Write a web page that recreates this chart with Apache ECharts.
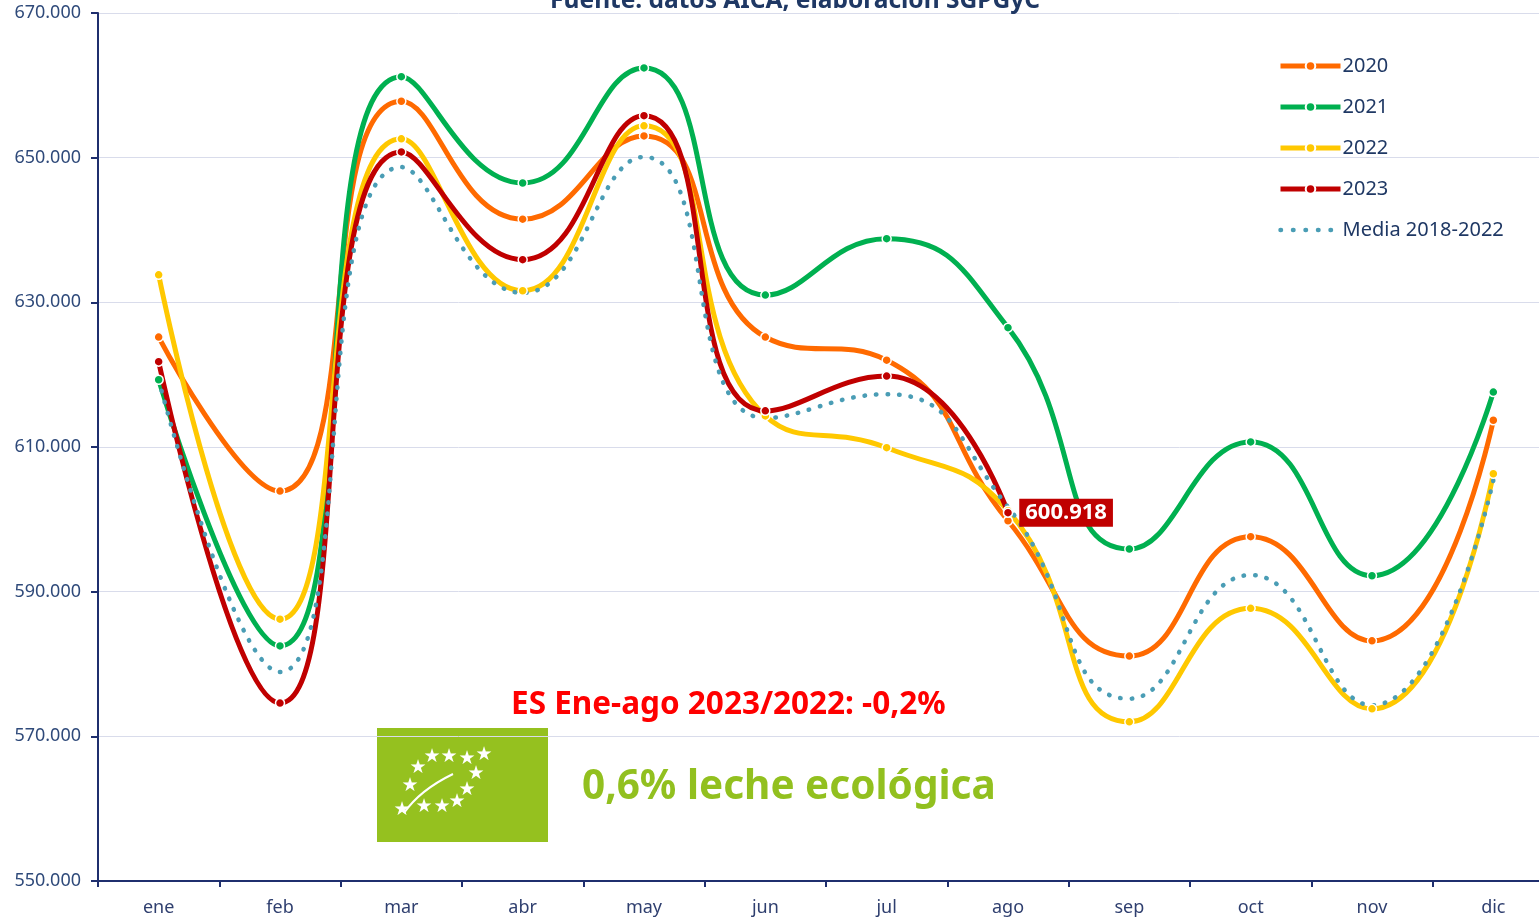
<!DOCTYPE html>
<html>
<head>
<meta charset="utf-8">
<style>
  html, body { margin: 0; padding: 0; background: #fff; }
  #chart { width: 1539px; height: 923px; }
</style>
<script src="https://cdn.jsdelivr.net/npm/echarts@6/dist/echarts.min.js"></script>
</head>
<body>
<div id="chart"></div>
<script>
const months = ['ene', 'feb', 'mar', 'abr', 'may', 'jun', 'jul', 'ago', 'sep', 'oct', 'nov', 'dic'];

const y2020 = [625200, 603900, 657800, 641500, 653000, 625200, 622000, 599800, 581100, 597600, 583200, 613700];
const y2021 = [619300, 582500, 661200, 646500, 662400, 631000, 638800, 626500, 595900, 610700, 592200, 617600];
const y2022 = [633800, 586200, 652600, 631600, 654400, 614300, 609900, 601200, 572000, 587700, 573800, 606300];
const y2023 = [621800, 574600, 650800, 635900, 655800, 615000, 619800, 600918];
const media = [619300, 578900, 648700, 631300, 650100, 614000, 617300, 601700, 575200, 592300, 574300, 605400];

const navy = '#1F3864';
const font = 'Noto Sans';

function fmtThousands(v) {
  return String(v).replace(/\B(?=(\d{3})+(?!\d))/g, '.');
}

function yearSeries(name, data, color) {
  return {
    name,
    type: 'line',
    smooth: 0.5,
    data,
    symbol: 'circle',
    symbolSize: 9,
    itemStyle: { color, borderColor: '#fff', borderWidth: 1.5 },
    lineStyle: { color, width: 5 },
    emphasis: { disabled: true },
  };
}

// last 2023 value gets the boxed label
const y2023Data = y2023.map((v, i) => i === y2023.length - 1 ? {
  value: v,
  label: {
    show: true,
    formatter: p => fmtThousands(p.value),
    position: 'right', distance: 6,
    color: '#fff', fontWeight: 'bold', fontSize: 22, fontFamily: font,
    backgroundColor: '#C00000', padding: [4, 6, 2, 6],
  },
} : v);

// logo stars (decoration)
const starPos = [[432, 757], [449, 757], [467, 759], [484, 755], [418, 768], [476, 774],
  [410, 786], [467, 790], [457, 802], [442, 807], [424, 807], [402, 810]];

const chart = echarts.init(document.getElementById('chart'));
chart.setOption({
  animation: false,
  textStyle: { fontFamily: font },
  title: {
    text: 'Fuente: datos AICA, elaboración SGPGyC',
    left: 790, textAlign: 'center', top: -16,
    textStyle: { color: navy, fontSize: 24.5, fontWeight: 'bold', fontFamily: font },
  },
  legend: {
    orient: 'vertical',
    left: 1273, top: 51,
    itemWidth: 60, itemHeight: 12, itemGap: 21,
    lineStyle: { width: 5 },
    textStyle: { color: navy, fontSize: 20, fontFamily: font, padding: [0, 0, 0, -3] },
    data: ['2020', '2021', '2022', '2023', {
      name: 'Media 2018-2022',
      itemStyle: { opacity: 0 },
      lineStyle: { width: 4.5, type: [0.5, 12], cap: 'round' },
    }],
  },
  grid: { left: 98, width: 1456, top: 13, bottom: 42, outerBoundsMode: 'none', containLabel: false },
  xAxis: {
    type: 'category',
    data: months,
    boundaryGap: true,
    axisLine: { lineStyle: { color: '#1F2F6E', width: 2 } },
    axisTick: { show: true, length: 6, lineStyle: { color: '#1F2F6E', width: 2 } },
    axisLabel: { color: '#2F3F6F', fontSize: 18, margin: 18 },
  },
  yAxis: {
    type: 'value',
    min: 550000, max: 670000, interval: 20000,
    axisLine: { show: true, lineStyle: { color: '#1F2F6E', width: 2 } },
    axisTick: { show: true, length: 7, lineStyle: { color: '#1F2F6E', width: 2 } },
    axisLabel: { color: '#2F4A7A', fontSize: 18, margin: 17, formatter: fmtThousands },
    splitLine: { lineStyle: { color: '#D9DCEB', width: 1 } },
  },
  series: [
    yearSeries('2020', y2020, '#FF6A00'),
    yearSeries('2021', y2021, '#00B050'),
    yearSeries('2022', y2022, '#FFC800'),
    yearSeries('2023', y2023Data, '#C00000'),
    {
      name: 'Media 2018-2022',
      type: 'line',
      smooth: 0.5,
      data: media,
      symbol: 'none',
      itemStyle: { color: '#4A9DB5' },
      lineStyle: { color: '#4A9DB5', width: 4.5, type: [0.5, 11], cap: 'round' },
      emphasis: { disabled: true },
    },
  ],
  graphic: [
    {
      type: 'text', left: 511, top: 689,
      style: { text: 'ES Ene-ago 2023/2022: -0,2%', fill: '#FF0000', font: 'bold 31.5px "Noto Sans"' },
    },
    { type: 'rect', shape: { x: 377, y: 728, width: 171, height: 114 }, style: { fill: '#95C11F' } },
    {
      type: 'bezierCurve',
      shape: { x1: 404, y1: 813, x2: 453, y2: 774, cpx1: 420, cpy1: 790 },
      style: { stroke: '#fff', lineWidth: 2, fill: null },
    },
    ...starPos.map(([x, y]) => ({
      type: 'text', x, y,
      style: { text: '★', fill: '#fff', font: '19px "DejaVu Sans"', align: 'center', verticalAlign: 'middle' },
    })),
    {
      type: 'text', left: 582, top: 767,
      style: { text: '0,6% leche ecológica', fill: '#92C01F', font: 'bold 40.5px "Noto Sans"' },
    },
  ],
});
</script>
</body>
</html>
